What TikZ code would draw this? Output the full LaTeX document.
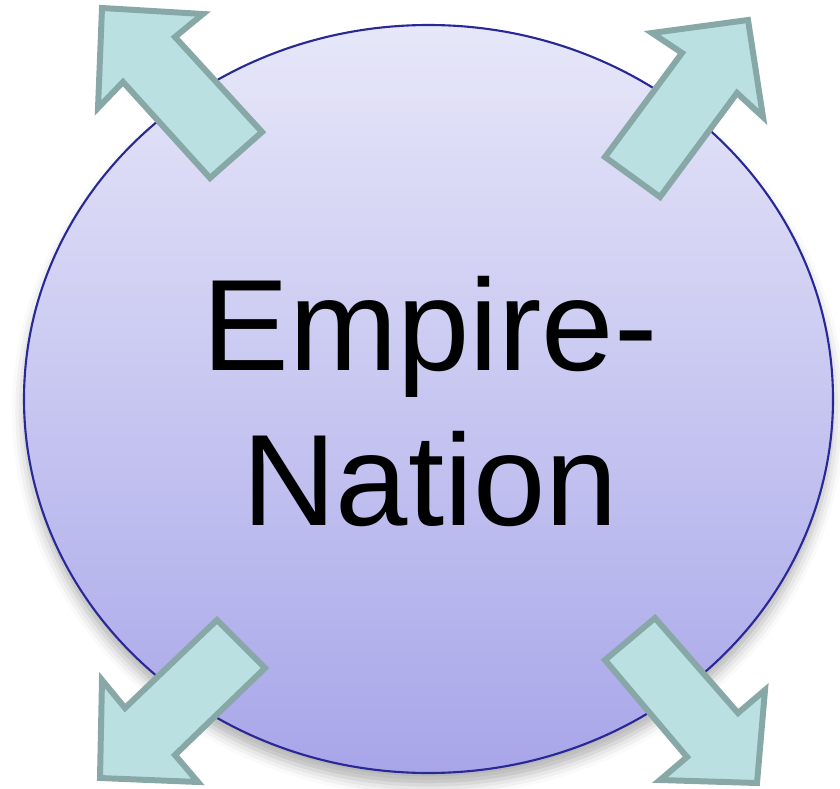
\documentclass[tikz,border=0pt]{standalone}
\usepackage{fontspec}
\setmainfont{Liberation Sans}
\usepackage{tikz}
\usetikzlibrary{shapes.geometric,shadows.blur}
\definecolor{globetop}{RGB}{231,231,249}
\definecolor{globebottom}{RGB}{168,166,233}
\definecolor{globedraw}{RGB}{40,40,150}
\definecolor{arrowfill}{RGB}{186,224,226}
\definecolor{arrowdraw}{RGB}{136,168,168}

\begin{document}
\begin{tikzpicture}[x=0.1mm,y=-0.1mm,
    globe/.style={ellipse,draw=globedraw,line width=0.6pt,top color=globetop,bottom color=globebottom,
      minimum width=8.09cm,minimum height=7.48cm,inner sep=0pt,
      blur shadow={shadow xshift=0pt,shadow yshift=-1.2mm,shadow blur radius=1.2mm,shadow opacity=30}},
    blockarrow/.style={fill=arrowfill,draw=arrowdraw,line width=1.7pt,line join=miter},
    every node/.style={font=\fontsize{37}{44}\selectfont}]
  \useasboundingbox (0,0) rectangle (840,788);
  \node[globe] (empire) at (428.5,399) {};
  \node[align=center,anchor=base] (name) at (430,525) {Empire-\\Nation};
  % four outward arrows
  \draw[blockarrow] (102,8) -- (203,14) -- (175,37) -- (262,132) -- (210,178) -- (123,82) -- (98,108) -- cycle;
  \draw[blockarrow] (748,20) -- (763,117) -- (737,93) -- (660,197) -- (605,157) -- (682,53) -- (652,33) -- cycle;
  \draw[blockarrow] (100,778) -- (102,680) -- (125,708) -- (217,620) -- (265,668) -- (175,755) -- (198,782) -- cycle;
  \draw[blockarrow] (757,783) -- (660,780) -- (687,757) -- (605,660) -- (655,618) -- (738,713) -- (765,690) -- cycle;
\end{tikzpicture}
\end{document}
